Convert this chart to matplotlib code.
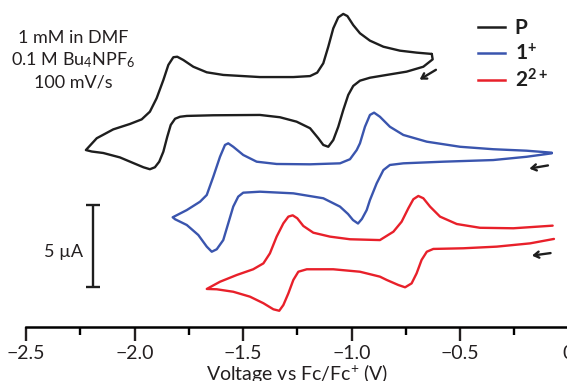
import numpy as np
import matplotlib.pyplot as plt
from matplotlib.ticker import MultipleLocator

plt.rcParams['font.family'] = ['Lato', 'DejaVu Sans']
plt.rcParams['mathtext.fontset'] = 'custom'
plt.rcParams['mathtext.rm'] = 'Lato'
plt.rcParams['mathtext.bf'] = 'Lato:bold'
plt.rcParams['mathtext.it'] = 'Lato:italic'

# potential (V vs Fc/Fc+) and stacked current (uA)
p_volt = [-0.630, -0.700, -0.777, -0.853, -0.915, -0.961, -0.992, -1.019, -1.038, -1.061,
          -1.084, -1.107, -1.130, -1.158, -1.191, -1.268, -1.422, -1.591, -1.667, -1.729,
          -1.775, -1.803, -1.821, -1.844, -1.867, -1.898, -1.929, -1.967, -2.021, -2.098,
          -2.174, -2.224, -2.197, -2.144, -2.067, -2.006, -1.959, -1.929, -1.906, -1.886,
          -1.867, -1.849, -1.833, -1.813, -1.790, -1.759, -1.637, -1.422, -1.330, -1.253,
          -1.191, -1.153, -1.130, -1.107, -1.084, -1.061, -1.038, -1.015, -0.992, -0.961,
          -0.915, -0.838, -0.746, -0.669, -0.626, -0.630]
p_curr = [16.65, 16.73, 16.85, 17.09, 17.46, 17.91, 18.41, 18.96, 19.09, 18.88,
          18.21, 17.09, 16.08, 15.51, 15.30, 15.24, 15.24, 15.37, 15.53, 15.87,
          16.28, 16.48, 16.45, 15.98, 15.06, 13.95, 13.13, 12.66, 12.38, 12.05,
          11.51, 10.79, 10.70, 10.61, 10.34, 10.00, 9.74, 9.62, 9.74, 10.08,
          10.69, 11.60, 12.32, 12.70, 12.82, 12.87, 12.91, 12.93, 12.79, 12.52,
          12.12, 11.51, 11.10, 10.99, 11.40, 12.21, 13.23, 14.15, 14.70, 15.02,
          15.20, 15.37, 15.57, 15.87, 16.32, 16.65]

b_volt = [-0.077, -0.193, -0.347, -0.500, -0.653, -0.761, -0.823, -0.869, -0.896, -0.915,
          -0.938, -0.961, -0.976, -1.007, -1.053, -1.191, -1.345, -1.437, -1.499, -1.545,
          -1.568, -1.583, -1.606, -1.637, -1.667, -1.698, -1.759, -1.824, -1.813, -1.759,
          -1.706, -1.667, -1.644, -1.621, -1.591, -1.568, -1.545, -1.522, -1.499, -1.422,
          -1.268, -1.130, -1.053, -1.016, -0.993, -0.970, -0.952, -0.930, -0.915, -0.884,
          -0.853, -0.823, -0.761, -0.577, -0.347, -0.193, -0.077]
b_curr = [10.63, 10.75, 10.84, 10.99, 11.30, 11.71, 12.21, 12.82, 13.07, 12.93,
          12.21, 11.20, 10.79, 10.23, 9.98, 9.92, 9.94, 10.08, 10.49, 10.99,
          11.20, 11.10, 10.38, 9.16, 8.05, 7.64, 7.13, 6.69, 6.57, 6.22,
          5.61, 4.90, 4.59, 4.74, 5.30, 6.32, 7.34, 7.95, 8.19, 8.25,
          8.15, 7.85, 7.34, 6.89, 6.52, 6.31, 6.59, 7.13, 7.74, 8.76,
          9.57, 9.88, 9.98, 10.08, 10.18, 10.38, 10.59]

r_volt = [-0.073, -0.254, -0.408, -0.515, -0.592, -0.638, -0.669, -0.692, -0.715, -0.738,
          -0.769, -0.807, -0.869, -1.007, -1.099, -1.176, -1.222, -1.250, -1.271, -1.291,
          -1.314, -1.345, -1.376, -1.406, -1.453, -1.529, -1.606, -1.667, -1.621, -1.545,
          -1.468, -1.406, -1.360, -1.333, -1.314, -1.291, -1.268, -1.245, -1.206, -1.084,
          -0.961, -0.869, -0.838, -0.784, -0.753, -0.723, -0.700, -0.677, -0.653, -0.623,
          -0.485, -0.331, -0.177, -0.067]
r_curr = [6.18, 6.02, 6.05, 6.28, 6.73, 7.34, 7.85, 7.99, 7.79, 7.24,
          6.42, 5.81, 5.30, 5.35, 5.51, 5.75, 6.16, 6.63, 6.81, 6.73,
          6.32, 5.51, 4.49, 3.88, 3.52, 3.17, 2.76, 2.32, 2.30, 2.15,
          1.85, 1.45, 1.08, 0.99, 1.34, 2.05, 2.87, 3.37, 3.52, 3.52,
          3.37, 3.07, 2.87, 2.56, 2.42, 2.66, 3.27, 4.09, 4.59, 4.76,
          4.80, 4.90, 5.10, 5.37]

names = ['P', r'$\mathbf{1}^{\mathbf{+}}$', r'$\mathbf{2}^{\mathbf{2+}}$']
colors = ['#1e1e1e', '#3a55ae', '#e8202a']

# scan direction arrows: (tail, head) in V / uA
arrows = [((-0.600, 15.77), (-0.697, 15.00)),
          ((-0.082, 9.88), (-0.193, 9.63)),
          ((-0.070, 4.53), (-0.181, 4.33))]

scale_x = -2.191
scale_mid = 4.94
scale_len = 5.0

fig = plt.figure(figsize=(5.67, 3.81), dpi=100)
ax = fig.add_axes([26 / 567, 54 / 381, 542.5 / 567, 327 / 381])

for v, c, col in [(p_volt, p_curr, colors[0]), (b_volt, b_curr, colors[1]), (r_volt, r_curr, colors[2])]:
    ax.plot(v, c, color=col, lw=1.7, solid_joinstyle='round', solid_capstyle='round')

for tail, head in arrows:
    ax.annotate('', xy=head, xytext=tail,
                arrowprops=dict(arrowstyle='->,head_length=0.35,head_width=0.22', lw=1.7, color='#1e1e1e'))

# 5 uA scale bar
ax.errorbar([scale_x], [scale_mid], yerr=scale_len / 2, fmt='none', ecolor='#1e1e1e',
            elinewidth=1.7, capsize=5, capthick=1.7)
ax.text(scale_x - 0.045, scale_mid - 0.35, '5 µA', ha='right', va='center', fontsize=13, color='#231f20')

ax.set_xlim(-2.5, 0)
ax.set_ylim(0, 327 / 16.4)
ax.xaxis.set_major_locator(MultipleLocator(0.5))
ax.xaxis.set_minor_locator(MultipleLocator(0.25))
ax.set_xticklabels(['\u22122.5', '\u22122.0', '\u22121.5', '\u22121.0', '\u22120.5', '0'])
ax.xaxis.set_major_formatter(plt.FuncFormatter(lambda x, p: '0' if abs(x) < 1e-9 else f'{x:.1f}'.replace('-', '\u2212')))
ax.tick_params(axis='x', which='major', length=10, width=1.7, labelsize=14, pad=3, colors='#231f20')
ax.tick_params(axis='x', which='minor', length=6, width=1.7)
ax.set_yticks([])
for s in ['left', 'right', 'top']:
    ax.spines[s].set_visible(False)
ax.spines['bottom'].set_linewidth(1.8)
ax.set_xlabel('Voltage vs Fc/Fc$^{+}$ (V)', fontsize=14, labelpad=0, color='#231f20')

# conditions
for txt, yb in [('1 mM in DMF', 0.888), ('0.1 M Bu$_4$NPF$_6$', 0.829), ('100 mV/s', 0.771)]:
    fig.text(0.129, yb, txt, ha='center', va='baseline', fontsize=13, color='#231f20')

# legend drawn by hand
for i, (nm, col) in enumerate(zip(names, colors)):
    yc = [0.918, 0.839, 0.755][i]
    ax.plot([0.833, 0.883], [yc, yc], transform=ax.transAxes, color=col, lw=1.8, clip_on=False)
    ax.text(0.901, yc - 0.022, nm, transform=ax.transAxes, ha='left', va='baseline',
            fontsize=15, fontweight='bold', color='#1e1e1e')

fig.savefig('out.png', dpi=100)
